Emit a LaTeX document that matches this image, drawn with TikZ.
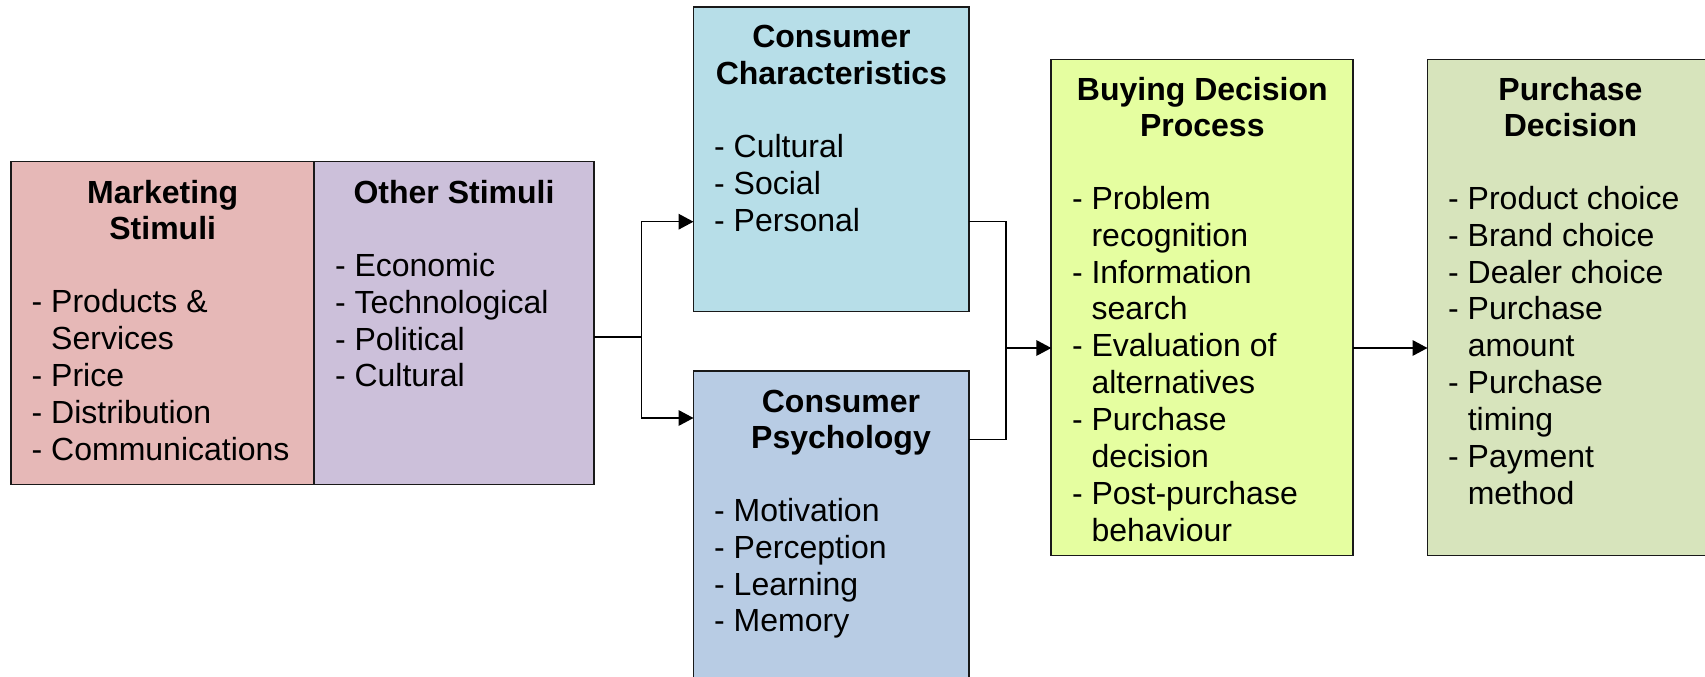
\documentclass[tikz,border=0pt]{standalone}
\usepackage{fontspec}
\setmainfont{Liberation Sans}
\usetikzlibrary{arrows.meta}
\definecolor{mkfill}{RGB}{230,184,183}
\definecolor{otfill}{RGB}{204,192,218}
\definecolor{ccfill}{RGB}{183,222,232}
\definecolor{cpfill}{RGB}{184,204,228}
\definecolor{bdfill}{RGB}{229,254,160}
\definecolor{pdfill}{RGB}{215,228,188}
\newcommand{\boxhead}[2]{\parbox[t]{#1}{\centering\fontsize{16pt}{18.45pt}\selectfont\bfseries #2}}
\newcommand{\boxlist}[1]{\parbox[t]{160pt}{\raggedright\fontsize{16pt}{18.45pt}\selectfont #1}}
\newcommand{\indentcont}{\phantom{-~}}
\tikzset{
  boxnode/.style={draw=black!90, line width=0.9pt, inner sep=0pt, outer sep=0pt, anchor=north west},
  head/.style={anchor=base, inner sep=0pt},
  items/.style={anchor=base west, inner sep=0pt},
  conn/.style={line width=0.75pt, draw=black},
  arr/.style={conn, -{Triangle[length=7.5pt,width=7.8pt]}},
}
\begin{document}
\begin{tikzpicture}[x=0.5pt,y=-0.5pt]
\useasboundingbox (0,0) rectangle (1705,676);
\fill[white] (0,0) rectangle (1705,676);
\clip (0,0) rectangle (1705,676);
% boxes
\node[boxnode, fill=mkfill, minimum width=151.65pt, minimum height=161.5pt] (mk) at (11,161.5) {};
\node[boxnode, fill=otfill, minimum width=139.7pt, minimum height=161.5pt] (ot) at (314.3,161.5) {};
\node[boxnode, fill=ccfill, minimum width=137.9pt, minimum height=152.1pt] (cc) at (693.5,7.3) {};
\node[boxnode, fill=cpfill, minimum width=137.9pt, minimum height=174.5pt] (cp) at (693.5,371) {};
\node[boxnode, fill=bdfill, minimum width=151pt, minimum height=248pt] (bd) at (1051.3,59.5) {};
\node[boxnode, fill=pdfill, minimum width=143.25pt, minimum height=248pt] (pd) at (1427.5,59.5) {};
% headings
\node[head] (mkh) at (162.7,203) {\boxhead{150pt}{Marketing\\Stimuli}};
\node[head] (oth) at (454,203) {\boxhead{139pt}{Other Stimuli}};
\node[head] (cch) at (831.4,47.5) {\boxhead{137pt}{Consumer\\Characteristics}};
\node[head] (cph) at (841,412) {\boxhead{137pt}{Consumer\\Psychology}};
\node[head] (bdh) at (1202.3,100) {\boxhead{150pt}{Buying Decision\\Process}};
\node[head] (pdh) at (1570.5,100) {\boxhead{142pt}{Purchase\\Decision}};
% item lists
\node[items] (mki) at (31.3,312.8) {\boxlist{- Products \&\\\indentcont Services\\- Price\\- Distribution\\- Communications}};
\node[items] (oti) at (334.6,276.2) {\boxlist{- Economic\\- Technological\\- Political\\- Cultural}};
\node[items] (cci) at (713.8,157.3) {\boxlist{- Cultural\\- Social\\- Personal}};
\node[items] (cpi) at (713.8,521.2) {\boxlist{- Motivation\\- Perception\\- Learning\\- Memory}};
\node[items] (bdi) at (1071.6,209.2) {\boxlist{- Problem\\\indentcont recognition\\- Information\\\indentcont search\\- Evaluation of\\\indentcont alternatives\\- Purchase\\\indentcont decision\\- Post-purchase\\\indentcont behaviour}};
\node[items] (pdi) at (1447.8,209.2) {\boxlist{- Product choice\\- Brand choice\\- Dealer choice\\- Purchase\\\indentcont amount\\- Purchase\\\indentcont timing\\- Payment\\\indentcont method}};
% connector coordinates
\coordinate (fork) at (641.7,337);
\coordinate (ya) at (0,221.7);
\coordinate (yb) at (0,418);
\coordinate (yc) at (0,439.3);
\coordinate (merge) at (1005.8,348);
% connectors
\draw[conn] (ot.east |- fork) -- (fork);
\draw[arr] (fork) |- (cc.west |- ya);
\draw[arr] (fork) |- (cp.west |- yb);
\draw[conn] (cc.east |- ya) -| (merge);
\draw[conn] (cp.east |- yc) -| (merge);
\draw[arr] (merge) -- (bd.west |- merge);
\draw[arr] (bd.east |- merge) -- (pd.west |- merge);
\end{tikzpicture}
\end{document}
